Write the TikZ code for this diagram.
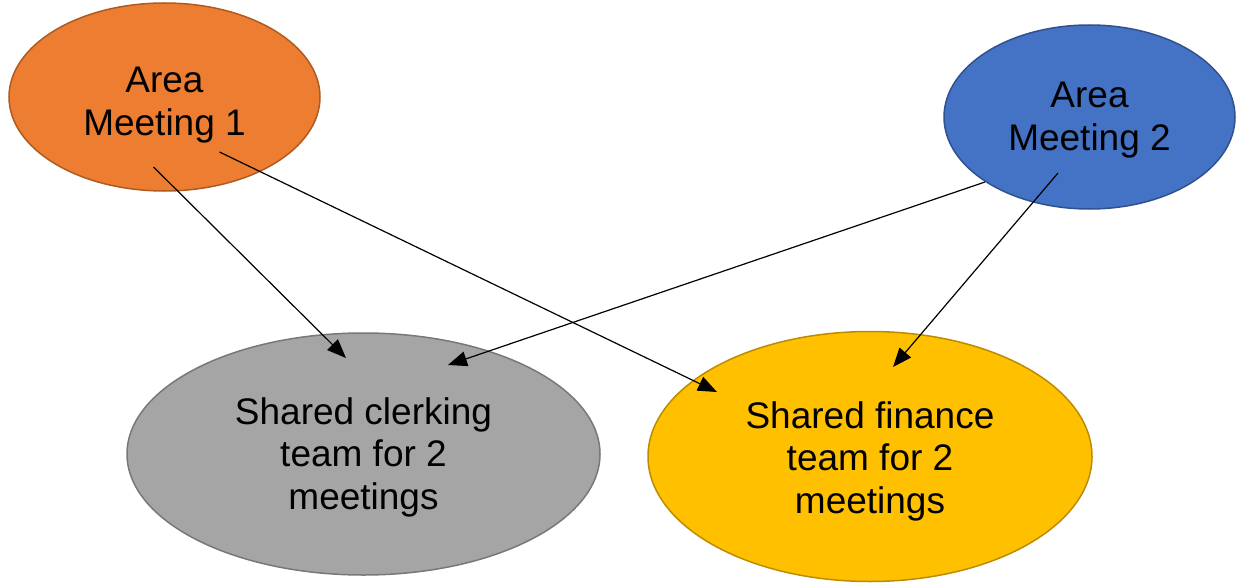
\documentclass[tikz,border=0pt]{standalone}
\usepackage{fontspec}
\setmainfont{Liberation Sans}
\usetikzlibrary{shapes.geometric,arrows.meta,calc}
\definecolor{orgfill}{HTML}{ED7D31}
\definecolor{orgline}{HTML}{AE5A21}
\definecolor{bluefill}{HTML}{4472C4}
\definecolor{blueline}{HTML}{2F528F}
\definecolor{grayfill}{HTML}{A5A5A5}
\definecolor{grayline}{HTML}{787878}
\definecolor{yelfill}{HTML}{FFC000}
\definecolor{yelline}{HTML}{BC8C00}
\begin{document}
\begin{tikzpicture}[x=1pt,y=-1pt,
  oval/.style={ellipse,inner sep=0pt,line width=1.5pt},
  txt/.style={inner sep=0pt,align=center,font=\fontsize{37}{42.5}\selectfont},
  link/.style={line width=1.2pt,-{Triangle[length=19pt,width=15pt]}}]
\useasboundingbox (0,0) rectangle (1239,583);
\node[oval,fill=orgfill,draw=orgline,minimum width=311pt,minimum height=188pt] (am1) at (164.5,97) {};
\node[oval,fill=bluefill,draw=blueline,minimum width=291pt,minimum height=184pt] (am2) at (1089.5,117) {};
\node[oval,fill=grayfill,draw=grayline,minimum width=473pt,minimum height=242pt] (clerk) at (363.5,454) {};
\node[oval,fill=yelfill,draw=yelline,minimum width=444pt,minimum height=250pt] (fin) at (870,456.5) {};
\node[txt] (am1t) at ($(am1.center)+(0,8)$) {Area\\Meeting 1};
\node[txt] (am2t) at ($(am2.center)+(0,3)$) {Area\\Meeting 2};
\node[txt] (clerkt) at ($(clerk.center)+(0,3)$) {Shared clerking\\team for 2\\meetings};
\node[txt] (fint) at ($(fin.center)+(0,4.5)$) {Shared finance\\team for 2\\meetings};
\coordinate (s1) at ($(am1.center)+(-11,70)$);
\coordinate (s2) at ($(am1.center)+(55,55)$);
\coordinate (s3) at ($(am2.center)+(-104.5,65)$);
\coordinate (s4) at ($(am2.center)+(-31.5,56)$);
\coordinate (t1) at ($(clerk.center)+(-17.5,-96)$);
\coordinate (t3) at ($(clerk.center)+(84.5,-89)$);
\coordinate (t2) at ($(fin.center)+(-153,-64.5)$);
\coordinate (t4) at ($(fin.center)+(23,-89.5)$);
\draw[link] (s1) -- (t1);
\draw[link] (s2) -- (t2);
\draw[link] (s3) -- (t3);
\draw[link] (s4) -- (t4);
\end{tikzpicture}
\end{document}
